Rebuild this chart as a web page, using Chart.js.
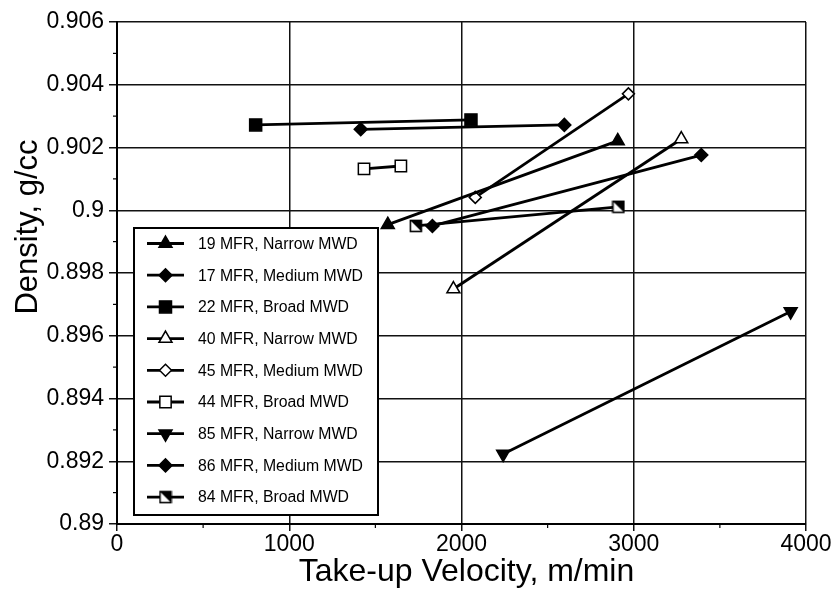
<!DOCTYPE html>
<html><head><meta charset="utf-8">
<script src="https://cdn.jsdelivr.net/npm/chart.js@4.4.1/dist/chart.umd.min.js"></script>
<style>html,body{margin:0;padding:0;background:#fff}#wrap{width:836px;height:590px}</style>
</head><body><div id="wrap"><canvas id="c" width="836" height="590"></canvas></div>
<script>
// ---- data ----
const seriesNames = [
  '19 MFR, Narrow MWD', '17 MFR, Medium MWD', '22 MFR, Broad MWD',
  '40 MFR, Narrow MWD', '45 MFR, Medium MWD', '44 MFR, Broad MWD',
  '85 MFR, Narrow MWD', '86 MFR, Medium MWD', '84 MFR, Broad MWD'
];
const vel19 = [1572, 2907];  const den19 = [0.89954, 0.90221];
const vel17 = [1415, 2597];  const den17 = [0.90258, 0.90272];
const vel22 = [805, 2055];   const den22 = [0.90272, 0.90288];
const vel40 = [1953, 3276];  const den40 = [0.89749, 0.90227];
const vel45 = [2080, 2969];  const den45 = [0.90041, 0.90371];
const vel44 = [1434, 1648];  const den44 = [0.90132, 0.90141];
const vel85 = [2242, 3911];  const den85 = [0.89223, 0.89677];
const vel86 = [1831, 3392];  const den86 = [0.89950, 0.90176];
const vel84 = [1735, 2911];  const den84 = [0.89950, 0.90011];
const xTickValues = [0, 1000, 2000, 3000, 4000];
const xTickLabels = ['0', '1000', '2000', '3000', '4000'];
const yTickValues = [0.89, 0.892, 0.894, 0.896, 0.898, 0.9, 0.902, 0.904, 0.906];
const yTickLabels = ['0.89', '0.892', '0.894', '0.896', '0.898', '0.9', '0.902', '0.904', '0.906'];
const xMinorValues = [500, 1500, 2500, 3500];
const yMinorValues = [0.891, 0.893, 0.895, 0.897, 0.899, 0.901, 0.903, 0.905];
const xTitle = 'Take-up Velocity, m/min';
const yTitle = 'Density, g/cc';

const FONT = "'Liberation Sans', Arial, Helvetica, sans-serif";
Chart.defaults.font.family = FONT;
Chart.defaults.color = '#000';

function pts(v, d) { return v.map((x, i) => ({ x: x, y: d[i] })); }

// half-filled square marker
function halfSquare() {
  const c = document.createElement('canvas');
  c.width = 14; c.height = 14;
  const g = c.getContext('2d');
  g.fillStyle = '#fff'; g.fillRect(1, 1, 12, 12);
  g.fillStyle = '#000';
  g.beginPath(); g.moveTo(1, 1); g.lineTo(13, 1); g.lineTo(13, 13); g.closePath(); g.fill();
  g.strokeStyle = '#000'; g.lineWidth = 1.6; g.strokeRect(1.5, 1.5, 11, 11);
  return c;
}
const HALF = halfSquare();

const styles = [
  { ps: 'triangle', r: 7.5, fill: '#000', rot: 0 },
  { ps: 'rectRot', r: 6.5, fill: '#000', rot: 0 },
  { ps: 'rect', r: 8.5, fill: '#000', rot: 0 },
  { ps: 'triangle', r: 7.5, fill: '#fff', rot: 0 },
  { ps: 'rectRot', r: 6, fill: '#fff', rot: 0 },
  { ps: 'rect', r: 8, fill: '#fff', rot: 0 },
  { ps: 'triangle', r: 7.5, fill: '#000', rot: 180 },
  { ps: 'rectRot', r: 6.5, fill: '#000', rot: 0 },
  { ps: HALF, r: 7, fill: '#fff', rot: 0 }
];
const allData = [
  pts(vel19, den19), pts(vel17, den17), pts(vel22, den22),
  pts(vel40, den40), pts(vel45, den45), pts(vel44, den44),
  pts(vel85, den85), pts(vel86, den86), pts(vel84, den84)
];

const datasets = seriesNames.map((n, i) => ({
  label: n,
  data: allData[i],
  showLine: true,
  borderColor: '#000',
  borderWidth: 2.8,
  pointStyle: styles[i].ps,
  pointRadius: styles[i].r,
  pointHoverRadius: styles[i].r,
  pointRotation: styles[i].rot,
  pointBackgroundColor: styles[i].fill,
  pointBorderColor: '#000',
  pointBorderWidth: 1.5
}));

// minor ticks + axis titles
const extras = {
  id: 'extras',
  afterDraw(chart) {
    const ctx = chart.ctx, xs = chart.scales.x, ys = chart.scales.y;
    const a = chart.chartArea;
    ctx.save(); ctx.strokeStyle = '#000'; ctx.lineWidth = 1.2;
    xMinorValues.forEach(v => { const p = xs.getPixelForValue(v); ctx.beginPath(); ctx.moveTo(p, a.bottom); ctx.lineTo(p, a.bottom + 4); ctx.stroke(); });
    yMinorValues.forEach(v => { const p = ys.getPixelForValue(v); ctx.beginPath(); ctx.moveTo(a.left, p); ctx.lineTo(a.left - 4, p); ctx.stroke(); });
    ctx.fillStyle = '#000';
    // x axis title
    ctx.font = '32px ' + FONT; ctx.textAlign = 'center'; ctx.textBaseline = 'alphabetic';
    ctx.fillText(xTitle, (a.left + a.right) / 2 + 5, 581);
    // y axis title
    ctx.translate(28, 227);
    ctx.rotate(-Math.PI / 2);
    ctx.font = '31px ' + FONT; ctx.textAlign = 'center'; ctx.textBaseline = 'middle';
    ctx.fillText(yTitle, 0, 0);
    ctx.restore();
  }
};

// boxed legend
const boxLegend = {
  id: 'boxLegend',
  afterDatasetsDraw(chart) {
    const ctx = chart.ctx;
    const bx = 134, by = 228, bw = 244, bh = 287;
    ctx.save();
    ctx.fillStyle = '#fff'; ctx.fillRect(bx, by, bw, bh);
    ctx.strokeStyle = '#000'; ctx.lineWidth = 2; ctx.strokeRect(bx, by, bw, bh);
    chart.data.datasets.forEach((ds, i) => {
      const cy = by + 15.5 + i * 31.7;
      ctx.strokeStyle = '#000'; ctx.lineWidth = 2.8;
      ctx.beginPath(); ctx.moveTo(147, cy); ctx.lineTo(184, cy); ctx.stroke();
      ctx.fillStyle = ds.pointBackgroundColor; ctx.strokeStyle = '#000';
      ctx.lineWidth = ds.pointBorderWidth;
      Chart.helpers.drawPoint(ctx, { pointStyle: ds.pointStyle, rotation: ds.pointRotation, radius: ds.pointRadius, borderWidth: ds.pointBorderWidth }, 165.5, cy);
      ctx.fillStyle = '#000';
      ctx.font = '15.8px ' + FONT; ctx.textBaseline = 'middle'; ctx.textAlign = 'left';
      ctx.fillText(ds.label, 198, cy + 1);
    });
    ctx.restore();
  }
};

new Chart(document.getElementById('c'), {
  type: 'scatter',
  data: { datasets: datasets },
  options: {
    responsive: false, animation: false, devicePixelRatio: 1,
    layout: { padding: { left: 0, right: 30, top: 22, bottom: 0 } },
    plugins: { legend: { display: false }, tooltip: { enabled: false } },
    scales: {
      x: {
        type: 'linear', min: 0, max: 4000,
        afterBuildTicks: s => { s.ticks = xTickValues.map(v => ({ value: v })); },
        afterFit: s => { s.height = 66; },
        ticks: { callback: (v, i) => xTickLabels[i], font: { size: 23 }, color: '#000', padding: 0, maxRotation: 0 },
        grid: { color: '#111', lineWidth: 1.5, tickLength: 7 },
        border: { color: '#000', width: 2 },
        title: { display: false }
      },
      y: {
        type: 'linear', min: 0.89, max: 0.906,
        afterBuildTicks: s => { s.ticks = yTickValues.map(v => ({ value: v })); },
        afterFit: s => { s.width = 117; },
        ticks: { callback: (v, i) => yTickLabels[i], font: { size: 23 }, color: '#000', padding: 5 },
        grid: { color: '#111', lineWidth: 1.5, tickLength: 8 },
        border: { color: '#000', width: 2 },
        title: { display: false }
      }
    }
  },
  plugins: [extras, boxLegend]
});
</script></body></html>
